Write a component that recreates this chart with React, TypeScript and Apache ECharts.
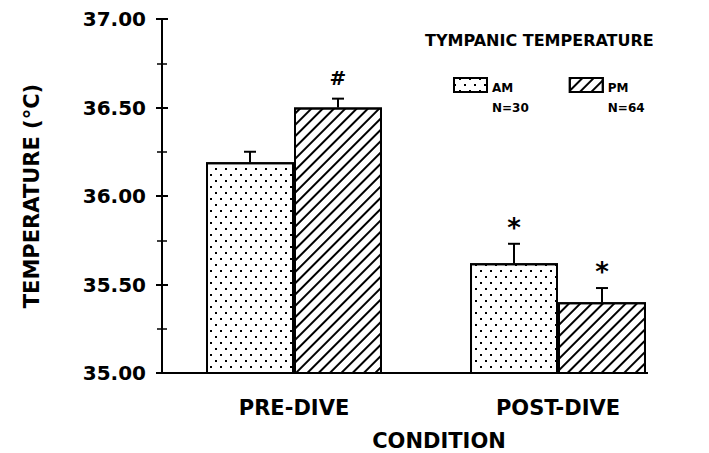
import React, { useEffect, useRef } from 'react';
import * as echarts from 'echarts';

const categories = ['PRE-DIVE', 'POST-DIVE'];
const seriesNames = ['AM', 'PM'];
const sampleSizes = ['N=30', 'N=64'];
const amMeans = [36.19, 35.62];
const pmMeans = [36.5, 35.4];
const amErrors = [0.06, 0.11];
const pmErrors = [0.05, 0.08];
const amMarks = ['', '*'];
const pmMarks = ['#', '*'];
const yMin = 35;
const yMax = 37;
const yInterval = 0.5;

const FONT = 'DejaVu Sans';

const dotDecal = {
  symbol: 'rect',
  symbolSize: 1,
  color: '#000',
  dashArrayX: [[1.6, 7.4], [0, 4.5, 1.6, 2.9]],
  dashArrayY: [1.6, 3.4],
};

const hatchDecal = {
  symbol: 'rect',
  symbolSize: 1,
  color: '#000',
  dashArrayX: [1, 0],
  dashArrayY: [1.5, 5.5],
  rotation: -Math.PI / 4,
};

function errorSeries(means: number[], errs: number[], marks: string[], side: number) {
  return {
    type: 'custom',
    xAxisIndex: 0,
    yAxisIndex: 0,
    z: 5,
    silent: true,
    data: means.map((m, i) => [i, m, m + errs[i]]),
    renderItem: (params: any, api: any) => {
      const i = api.value(0);
      const base = api.coord([i, api.value(1)]);
      const top = api.coord([i, api.value(2)]);
      const band = api.size([1, 0])[0];
      const x = base[0] + (side * band) / 6;
      const children: any[] = [
        { type: 'line', shape: { x1: x, y1: base[1], x2: x, y2: top[1] }, style: { stroke: '#000', lineWidth: 2 } },
        { type: 'line', shape: { x1: x - 6, y1: top[1], x2: x + 6, y2: top[1] }, style: { stroke: '#000', lineWidth: 2 } },
      ];
      const mark = marks[params.dataIndex];
      if (mark) {
        children.push({
          type: 'text',
          style: {
            text: mark,
            x,
            y: top[1] - (mark === '*' ? 16 : 21),
            align: 'center',
            verticalAlign: 'middle',
            font: `bold ${mark === '*' ? 26 : 20}px "${FONT}"`,
            fill: '#000',
          },
        });
      }
      return { type: 'group', children };
    },
  };
}

export default function App() {
  const ref = useRef<HTMLDivElement>(null);
  useEffect(() => {
    if (!ref.current) return;
    const chart = echarts.init(ref.current, null, { renderer: 'svg' });
    const labelStyle = { color: '#000', fontFamily: FONT, fontWeight: 'bold' as const };
    chart.setOption({
      animation: false,
      backgroundColor: '#fff',
      title: {
        text: 'TYMPANIC TEMPERATURE',
        left: 425,
        top: 32,
        padding: 0,
        textStyle: { ...labelStyle, fontSize: 16 },
      },
      legend: {
        data: seriesNames,
        left: 453,
        top: 59,
        padding: 0,
        itemWidth: 33,
        itemHeight: 14,
        itemGap: 40,
        icon: 'rect',
        selectedMode: false,
        formatter: (name: string) => `{s| }\n{a|${name}}\n{a|${sampleSizes[seriesNames.indexOf(name)]}}`,
        textStyle: {
          ...labelStyle,
          fontSize: 12,
          rich: {
            s: { ...labelStyle, fontSize: 12, lineHeight: 26 },
            a: { ...labelStyle, fontSize: 12, lineHeight: 20 },
          },
        },
      },
      grid: { left: 162, right: 19, top: 19, bottom: 80, containLabel: false, outerBoundsMode: 'none' },
      xAxis: {
        type: 'category',
        data: categories,
        axisLine: { show: false },
        axisTick: { show: false },
        axisLabel: { ...labelStyle, fontSize: 21, margin: 24 },
        name: 'CONDITION',
        nameLocation: 'middle',
        nameGap: 57,
        nameTextStyle: { ...labelStyle, fontSize: 21, padding: [0, 0, 0, 26] },
      },
      yAxis: [
        {
          type: 'value',
          min: yMin,
          max: yMax,
          interval: yInterval,
          position: 'left',
          axisLine: { show: true, lineStyle: { color: '#000', width: 2 } },
          axisTick: { show: true, length: 6, lineStyle: { color: '#000', width: 2 } },
          minorTick: { show: true, splitNumber: 2, length: 5, lineStyle: { color: '#000', width: 1.5 } },
          splitLine: { show: false },
          axisLabel: { ...labelStyle, fontSize: 20, margin: 16, formatter: (v: number) => v.toFixed(2) },
          name: 'TEMPERATURE (°C)',
          nameLocation: 'middle',
          nameGap: 120,
          nameTextStyle: { ...labelStyle, fontSize: 21 },
        },
        {
          type: 'value',
          min: yMin,
          max: yMax,
          interval: yInterval,
          position: 'left',
          axisLine: { show: false },
          axisTick: { show: true, inside: true, length: 6, lineStyle: { color: '#000', width: 2 } },
          minorTick: { show: true, splitNumber: 2, length: 5, lineStyle: { color: '#000', width: 1.5 } },
          splitLine: { show: false },
          axisLabel: { show: false },
        },
      ],
      graphic: [
        {
          type: 'line',
          shape: { x1: 162, y1: 373, x2: 648, y2: 373 },
          style: { stroke: '#000', lineWidth: 2 },
          z: 10,
        },
      ],
      series: [
        {
          name: seriesNames[0],
          type: 'bar',
          data: amMeans,
          barWidth: '33.33%',
          barGap: '0%',
          itemStyle: { color: '#fff', borderColor: '#000', borderWidth: 2, decal: dotDecal },
        },
        {
          name: seriesNames[1],
          type: 'bar',
          data: pmMeans,
          barWidth: '33.33%',
          barGap: '0%',
          itemStyle: { color: '#fff', borderColor: '#000', borderWidth: 2, decal: hatchDecal },
        },
        errorSeries(amMeans, amErrors, amMarks, -1),
        errorSeries(pmMeans, pmErrors, pmMarks, 1),
      ],
    });
    return () => chart.dispose();
  }, []);
  return <div ref={ref} style={{ width: 709, height: 453, position: 'absolute', left: 0, top: 0 }} />;
}
